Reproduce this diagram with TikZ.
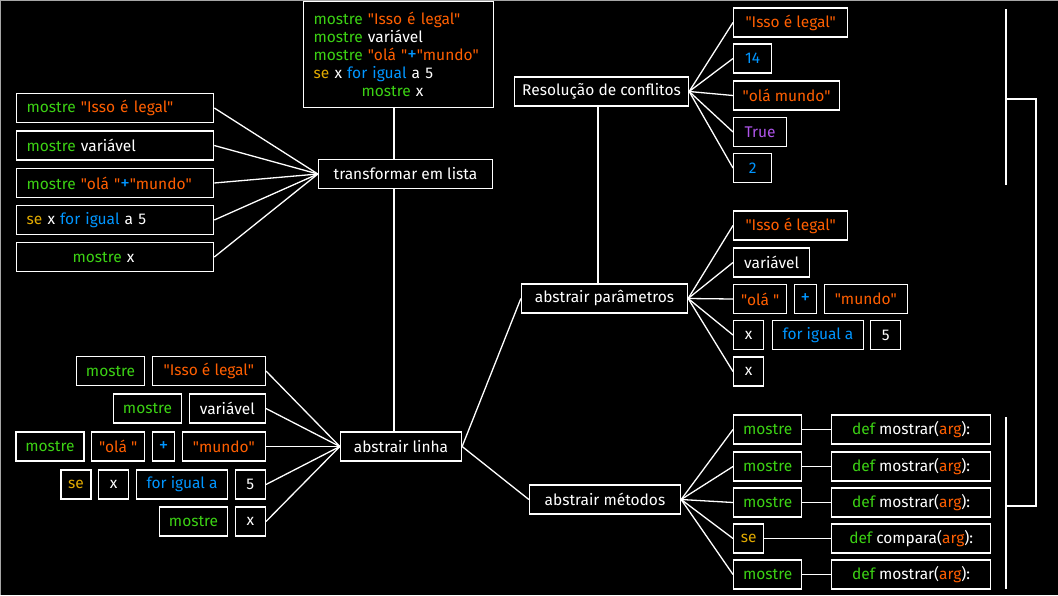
\documentclass[tikz,border=0pt]{standalone}
\usepackage{fontspec}
\setmainfont{Fira Sans}[Ligatures=TeXOff]
\usetikzlibrary{positioning}
\definecolor{kwgreen}{RGB}{60,210,20}
\definecolor{strorange}{RGB}{255,95,0}
\definecolor{numblue}{RGB}{0,150,255}
\definecolor{condgold}{RGB}{225,170,0}
\definecolor{boolpurple}{RGB}{175,85,235}
\newcommand{\ckw}[1]{\textcolor{kwgreen}{#1}}
\newcommand{\cstr}[1]{\textcolor{strorange}{#1}}
\newcommand{\cnum}[1]{\textcolor{numblue}{#1}}
\newcommand{\ccond}[1]{\textcolor{condgold}{#1}}
\newcommand{\cplus}{\textcolor{numblue}{{\fontsize{19}{18}\selectfont +}}}
\newcommand{\cdef}[1]{\ckw{def} #1(\cstr{arg}):}
\tikzset{
  box/.style={draw=white, line width=1.3pt, fill=black, text=white,
    font=\fontsize{15.5}{18}\selectfont, minimum height=29pt, inner xsep=3pt, inner ysep=2pt},
  tok/.style={box, minimum width=#1},
  listbox/.style={box, text width=177pt, inner xsep=10pt, anchor=west, align=left},
  link/.style={draw=white, line width=1.3pt},
}
\begin{document}
\begin{tikzpicture}[x=1pt,y=-1pt]
    \fill[black] (0,0) rectangle (1058,595);
    \useasboundingbox (0,0) rectangle (1058,595);
    \draw[gray!70, line width=1pt] (0.5,595) -- (0.5,0.5) -- (1058,0.5);

    % left tree
    \node[box, anchor=north west, text width=170pt, inner xsep=10pt, align=left, minimum height=106pt] (code) at (303,1)
      {\ckw{mostre} \cstr{"Isso é legal"}\\
       \ckw{mostre} variável\\
       \ckw{mostre} \cstr{"olá "}\cplus\cstr{"mundo"}\\
       \ccond{se} x \cnum{for igual} a 5\\
       \hspace*{48pt}\ckw{mostre} x};
    \node[box, minimum width=174pt] (trans) at (405.5,174) {transformar em lista};
    \node[box, minimum width=121pt] (linha) at (401,446.5) {abstrair linha};

    \node[listbox] (l1) at (16,108) {\ckw{mostre} \cstr{"Isso é legal"}};
    \node[listbox] (l2) at (16,145.5) {\ckw{mostre} variável};
    \node[listbox] (l3) at (16,183) {\ckw{mostre} \cstr{"olá "}\cplus\cstr{"mundo"}};
    \node[listbox] (l4) at (16,220) {\ccond{se} x \cnum{for igual} a 5};
    \node[listbox] (l5) at (16,257) {\hspace*{46pt}\ckw{mostre} x};

    \node[tok=113pt, anchor=east] (a1b) at (266,371) {\cstr{"Isso é legal"}};
    \node[tok=68pt, left=6.5pt of a1b] (a1a) {\ckw{mostre}};
    \node[tok=76pt, anchor=east] (a2b) at (266,408.5) {variável};
    \node[tok=68pt, left=6.5pt of a2b] (a2a) {\ckw{mostre}};
    \node[tok=83pt, anchor=east] (a3d) at (266,446.5) {\cstr{"mundo"}};
    \node[tok=22pt, left=6.5pt of a3d] (a3c) {\cplus};
    \node[tok=53pt, left=6.5pt of a3c] (a3b) {\cstr{"olá "}};
    \node[tok=68pt, left=6.5pt of a3b] (a3a) {\ckw{mostre}};
    \node[tok=30pt, anchor=east] (a4d) at (266,484.5) {5};
    \node[tok=91pt, left=6.5pt of a4d] (a4c) {\cnum{for igual a}};
    \node[tok=30pt, left=6.5pt of a4c] (a4b) {x};
    \node[tok=30pt, left=6.5pt of a4b] (a4a) {\ccond{se}};
    \node[tok=30pt, anchor=east] (a5b) at (266,521.5) {x};
    \node[tok=68pt, left=6.5pt of a5b] (a5a) {\ckw{mostre}};

    \coordinate (ltrunk) at (394,0);
    \draw[link] (code.south -| ltrunk) -- (trans.north -| ltrunk);
    \draw[link] (trans.south -| ltrunk) -- (linha.north -| ltrunk);
    \foreach \n in {l1,l2,l3,l4,l5}
        \draw[link] (\n.east) -- (trans.west);
    \foreach \n in {a1b,a2b,a3d,a4d,a5b}
        \draw[link] (\n.east) -- (linha.west);

    % right tree
    \node[box, minimum width=174pt] (resol) at (601.5,91.5) {Resolução de conflitos};
    \node[box, minimum width=166pt] (param) at (604.5,298.5) {abstrair parâmetros};
    \node[box, minimum width=151pt] (metod) at (605,499.5) {abstrair métodos};

    \node[tok=114pt, anchor=west] (r1) at (733,22.5) {\cstr{"Isso é legal"}};
    \node[tok=38pt, anchor=west] (r2) at (733,58.5) {\cnum{14}};
    \node[tok=106pt, anchor=west] (r3) at (733,95.5) {\cstr{"olá mundo"}};
    \node[tok=53pt, anchor=west] (r4) at (733,132) {\textcolor{boolpurple}{True}};
    \node[tok=38pt, anchor=west] (r5) at (733,168) {\cnum{2}};

    \node[tok=114pt, anchor=west] (p1) at (733,225.5) {\cstr{"Isso é legal"}};
    \node[tok=76pt, anchor=west] (p2) at (733,262.5) {variável};
    \node[tok=53pt, anchor=west] (p3a) at (733,299) {\cstr{"olá "}};
    \node[tok=22pt, right=6.5pt of p3a] (p3b) {\cplus};
    \node[tok=83pt, right=6.5pt of p3b] (p3c) {\cstr{"mundo"}};
    \node[tok=30pt, anchor=west] (p4a) at (733,335) {x};
    \node[tok=91pt, right=7.5pt of p4a] (p4b) {\cnum{for igual a}};
    \node[tok=30pt, right=6pt of p4b] (p4c) {5};
    \node[tok=30pt, anchor=west] (p5) at (733,371.5) {x};

    \node[tok=68pt, anchor=west] (m1) at (733,429.5) {\ckw{mostre}};
    \node[tok=68pt, anchor=west] (m2) at (733,466.5) {\ckw{mostre}};
    \node[tok=68pt, anchor=west] (m3) at (733,502.5) {\ckw{mostre}};
    \node[tok=30pt, anchor=west] (m4) at (733,538.5) {\ccond{se}};
    \node[tok=68pt, anchor=west] (m5) at (733,574.5) {\ckw{mostre}};
    \node[tok=159pt, anchor=west] (d1) at (831,429.5) {\cdef{mostrar}};
    \node[tok=159pt, anchor=west] (d2) at (831,466.5) {\cdef{mostrar}};
    \node[tok=159pt, anchor=west] (d3) at (831,502.5) {\cdef{mostrar}};
    \node[tok=159pt, anchor=west] (d4) at (831,538.5) {\cdef{compara}};
    \node[tok=159pt, anchor=west] (d5) at (831,574.5) {\cdef{mostrar}};

    \coordinate (rtrunk) at (598,0);
    \draw[link] (resol.south -| rtrunk) -- (param.north -| rtrunk);
    \draw[link] (linha.east) -- (param.west);
    \draw[link] (linha.east) -- (metod.west);
    \foreach \n in {r1,r2,r3,r4,r5}
        \draw[link] (resol.east) -- (\n.west);
    \foreach \n in {p1,p2,p3a,p4a,p5}
        \draw[link] (param.east) -- (\n.west);
    \foreach \i in {1,...,5}{
        \draw[link] (metod.east) -- (m\i.west);
        \draw[link] (m\i.east) -- (d\i.west);
    }

    % brackets
    \coordinate (brtop) at (1006,99);
    \coordinate (brbot) at (1006,506);
    \draw[link] (1006,9) -- (1006,185);
    \draw[link] (1006,417) -- (1006,589);
    \draw[link] (brtop) -- ++(30,0) |- (brbot);
\end{tikzpicture}
\end{document}
